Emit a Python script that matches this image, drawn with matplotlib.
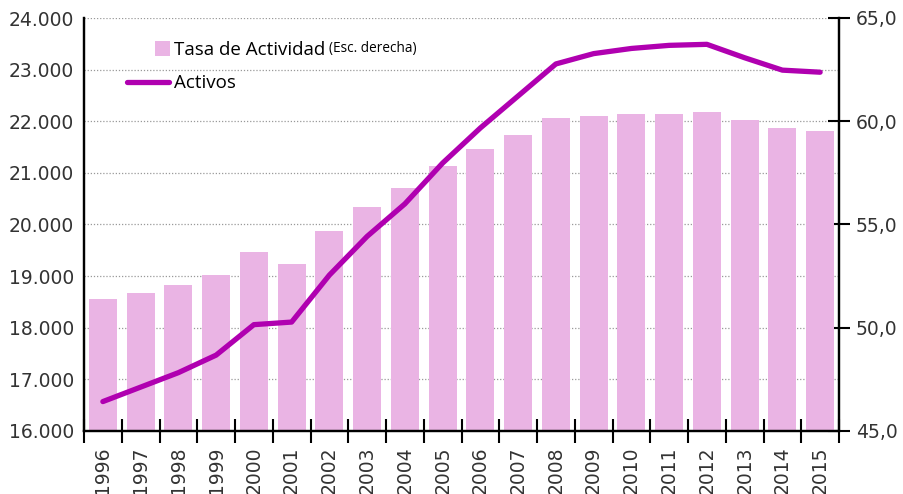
import numpy as np
import matplotlib.pyplot as plt
from matplotlib.patches import Rectangle
from matplotlib.legend_handler import HandlerPatch
from matplotlib.ticker import FixedLocator, MultipleLocator, FuncFormatter

years = [str(y) for y in range(1996, 2016)]
activos = [16570, 16850, 17130, 17470, 18060, 18110, 19020, 19770, 20400,
           21190, 21870, 22490, 23110, 23310, 23410, 23470, 23490, 23230,
           22990, 22950]
tasa = [51.39, 51.68, 52.07, 52.55, 53.67, 53.09, 54.69, 55.85, 56.77,
        57.83, 58.66, 59.33, 60.16, 60.25, 60.35, 60.35, 60.45, 60.06,
        59.67, 59.53]

BAR_COLOR = '#eab4e4'
LINE_COLOR = '#b000b0'
TEXT_COLOR = '#333333'


def fmt_left(v, pos):
    return f'{int(round(v)):,}'.replace(',', '.')


def fmt_right(v, pos):
    return f'{v:.1f}'.replace('.', ',')


def square_patch(legend, orig_handle, xdescent, ydescent, width, height, fontsize):
    s = 10.5
    return Rectangle((-xdescent + width - s + 1, -ydescent + (height - s) / 2), s, s)


def run():
    plt.rcParams['font.family'] = ['DejaVu Sans']
    fig = plt.figure(figsize=(9.04, 4.94), dpi=100)
    ax = fig.add_axes([84 / 904, 1 - 431 / 494, 755 / 904, 413 / 494])
    ax2 = ax.twinx()
    ax.set_zorder(ax2.get_zorder() + 1)
    ax.patch.set_visible(False)

    x = np.arange(len(years))

    # bars on right scale
    bars = ax2.bar(x, tasa, width=0.74, color=BAR_COLOR, zorder=2,
                   label='Tasa de Actividad')
    ax2.set_ylim(45, 65)
    ax2.yaxis.set_major_locator(MultipleLocator(5))
    ax2.yaxis.set_minor_locator(MultipleLocator(2.5))
    ax2.yaxis.set_major_formatter(FuncFormatter(fmt_right))
    ax2.grid(True, which='both', axis='y', color='#999999', linestyle=(0, (1, 1.5)),
             linewidth=0.9)
    ax2.set_axisbelow(True)
    ax2.tick_params(axis='y', which='major', direction='inout', length=16,
                    width=1.5, labelsize=13.5, labelcolor=TEXT_COLOR, pad=4)
    ax2.tick_params(axis='y', which='minor', length=0)

    # line on left scale
    line, = ax.plot(x, activos, color=LINE_COLOR, linewidth=3.8,
                    solid_capstyle='round', zorder=5, label='Activos')
    ax.set_ylim(16000, 24000)
    ax.set_xlim(-0.5, len(years) - 0.5)
    ax.yaxis.set_major_locator(MultipleLocator(1000))
    ax.yaxis.set_major_formatter(FuncFormatter(fmt_left))
    ax.tick_params(axis='y', length=0, labelsize=13.5, labelcolor=TEXT_COLOR, pad=7)

    ax.set_xticks(x)
    ax.set_xticklabels(years, rotation=90)
    ax.xaxis.set_minor_locator(FixedLocator(np.arange(-0.5, len(years), 1.0)))
    ax.tick_params(axis='x', which='major', length=0, labelsize=13.5,
                   labelcolor=TEXT_COLOR, pad=11)
    ax.tick_params(axis='x', which='minor', direction='inout', length=17, width=1.5)

    for a in (ax, ax2):
        a.spines['top'].set_visible(False)
        for s in ('left', 'right', 'bottom'):
            a.spines[s].set_linewidth(1.6)
            a.spines[s].set_color('black')
    ax2.tick_params(axis='x', which='both', length=0)

    leg = ax.legend([bars.patches[0], line], ['Tasa de Actividad', 'Activos'],
                    loc='upper left', bbox_to_anchor=(0.035, 0.985),
                    frameon=False, handlelength=2.2, handletextpad=0.3,
                    labelspacing=0.8, prop={'family': 'Open Sans', 'size': 13.5},
                    handler_map={Rectangle: HandlerPatch(patch_func=square_patch)})
    fig.canvas.draw()
    bb = leg.get_texts()[0].get_window_extent()
    inv = fig.transFigure.inverted()
    x0, y0 = inv.transform((bb.x1 + 4, bb.y0 + 3))
    fig.text(x0, y0, '(Esc. derecha)', fontsize=9.8, family='Open Sans',
             color='black', va='bottom', ha='left')

    fig.savefig('out.png', dpi=100)


if __name__ == '__main__':
    run()
